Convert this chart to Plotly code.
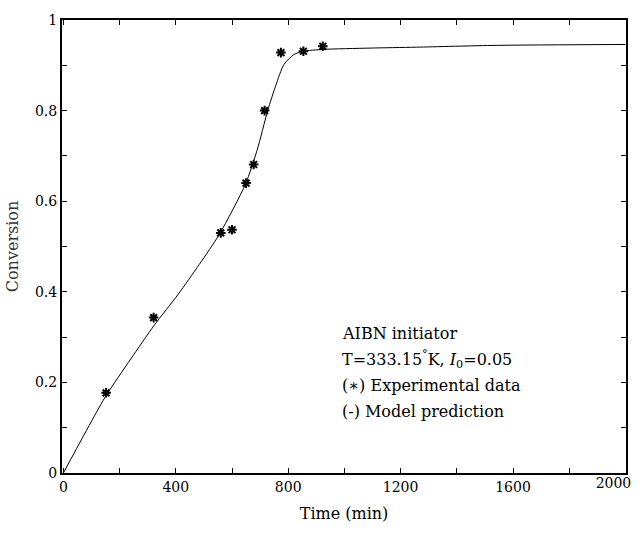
import plotly.graph_objects as go

# Experimental conversion data (AIBN, T = 333.15 K, I0 = 0.05)
exp_time = [152, 321, 560, 600, 650, 677, 716, 774, 854, 923]
exp_conv = [0.177, 0.343, 0.530, 0.537, 0.640, 0.681, 0.800, 0.928, 0.931, 0.942]

# Model prediction curve
model_time = [0, 75, 150, 240, 323, 409, 483, 556, 648, 689, 727, 756, 785, 821, 854, 923, 1091, 1256, 1540, 2000]
model_conv = [0.0, 0.086, 0.169, 0.252, 0.326, 0.395, 0.460, 0.528, 0.638, 0.712, 0.800, 0.856, 0.902, 0.924, 0.931, 0.935, 0.938, 0.940, 0.944, 0.946]

x_major = [0, 400, 800, 1200, 1600]
x_last = [2000]
y_major = [0, 0.2, 0.4, 0.6, 0.8, 1.0]
y_labels = ["0", "0.2", "0.4", "0.6", "0.8", "1"]

note_lines = [
    "AIBN initiator",
    "T=333.15<sup>°</sup>K, <i>I</i><sub>0</sub>=0.05",
    "(∗) Experimental data",
    "(-) Model prediction",
]

FONT = "DejaVu Serif"
X_RANGE = [-5, 2002]

fig = go.Figure()
fig.add_trace(go.Scatter(
    x=model_time, y=model_conv, mode="lines",
    line=dict(color="black", width=1, shape="spline", smoothing=0.7),
    showlegend=False,
))
fig.add_trace(go.Scatter(
    x=exp_time, y=exp_conv, mode="markers",
    marker=dict(symbol="asterisk", size=8, color="black",
                line=dict(color="black", width=2)),
    showlegend=False,
))

for i, txt in enumerate(note_lines):
    fig.add_annotation(
        x=985, y=0.307 - i * 0.057, xref="x", yref="y",
        text=txt, showarrow=False, xanchor="left", yanchor="middle",
        font=dict(family=FONT, size=16, color="black"),
    )

axis_common = dict(
    ticks="inside", ticklen=5, tickwidth=1, tickcolor="black",
    showline=True, linewidth=2, linecolor="black", mirror="ticks",
    showgrid=False, zeroline=False,
    tickfont=dict(family=FONT, size=14, color="black"),
)

fig.update_xaxes(
    range=X_RANGE, tickvals=x_major,
    minor=dict(dtick=200, tick0=0, ticks="inside", ticklen=5, tickcolor="black", showgrid=False),
    title=dict(text="Time (min)", font=dict(family=FONT, size=16, color="black"), standoff=14),
    **axis_common,
)
fig.update_yaxes(
    range=[0, 1.0], tickvals=y_major, ticktext=y_labels,
    minor=dict(dtick=0.1, tick0=0, ticks="inside", ticklen=5, tickcolor="black", showgrid=False),
    title=dict(text="Conversion", font=dict(family=FONT, size=16, color="#333333"), standoff=12),
    **axis_common,
)

# Companion axis carrying only the last label, pulled in so it stays on the page
fig.update_layout(
    xaxis2=dict(
        overlaying="x", anchor="y", side="bottom", range=X_RANGE,
        tickvals=x_last, ticks="", showline=False, showgrid=False, zeroline=False,
        ticklabeloverflow="allow", ticklabelshift=-12,
        tickfont=dict(family=FONT, size=14, color="black"),
    ),
)
fig.add_trace(go.Scatter(x=x_last, y=[None], xaxis="x2", yaxis="y",
                         mode="markers", showlegend=False, hoverinfo="skip"))

fig.update_layout(
    width=642, height=534,
    margin=dict(l=62, r=11, t=20, b=61),
    plot_bgcolor="white", paper_bgcolor="white",
)

fig.write_html("out.html")
